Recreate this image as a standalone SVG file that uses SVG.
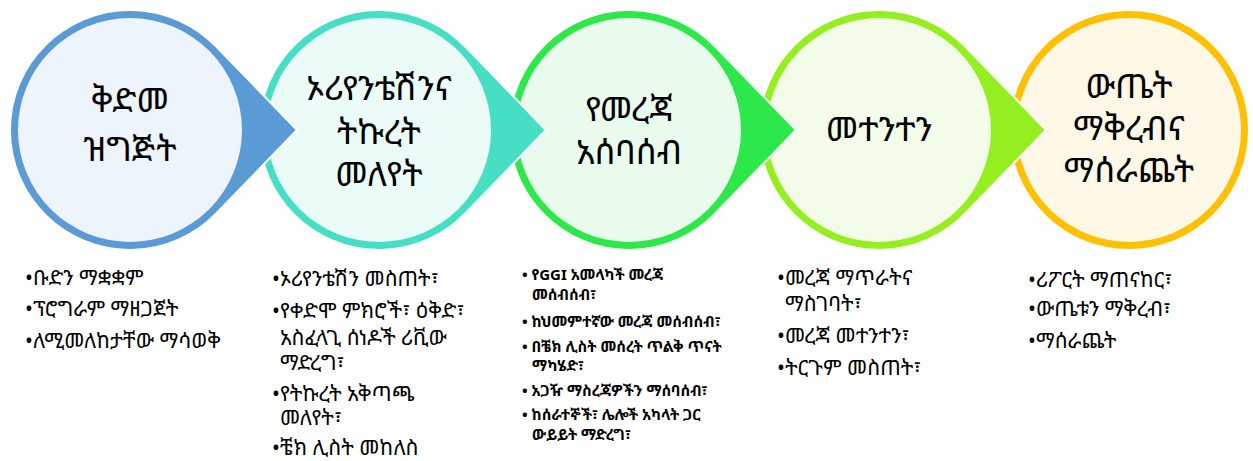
<svg xmlns="http://www.w3.org/2000/svg" width="1253" height="461" viewBox="0 0 1253 461">
<style>
.tear{stroke:#ffffff;stroke-width:2}
.title{font-family:"Noto Sans Ethiopic","Abyssinica SIL","Noto Sans","DejaVu Sans",sans-serif;font-size:34px;fill:#000;text-anchor:middle}
.b{font-family:"Noto Sans Ethiopic","Abyssinica SIL","Noto Sans","DejaVu Sans",sans-serif;font-size:21px;fill:#000}
.bs{font-family:"Noto Sans Ethiopic","Abyssinica SIL","Noto Sans","DejaVu Sans",sans-serif;font-size:15px;font-weight:bold;fill:#000}
</style>
<rect width="1253" height="461" fill="#ffffff"/>
<g id="step5">
<circle cx="1129" cy="130" r="120" fill="#FFC000" class="tear"/>
<circle cx="1129" cy="130" r="112" fill="#FFF8E6"/>
<text class="title" x="1129" y="98">ውጤት</text>
<text class="title" x="1129" y="140">ማቅረብና</text>
<text class="title" x="1129" y="182">ማሰራጨት</text>
</g>
<g id="step4">
<path class="tear" fill="#95EE1F" d="M1046,130 L965.2,46.6 A120 120 0 1 0 965.2,213.4 Z"/>
<circle cx="879" cy="130" r="112" fill="#F3FCE9"/>
<text class="title" x="879" y="141">መተንተን</text>
</g>
<g id="step3">
<path class="tear" fill="#2DE84B" d="M796,130 L715.2,46.6 A120 120 0 1 0 715.2,213.4 Z"/>
<circle cx="629" cy="130" r="112" fill="#E9FBEC"/>
<text class="title" x="629" y="121">የመረጃ</text>
<text class="title" x="629" y="164">አሰባሰብ</text>
</g>
<g id="step2">
<path class="tear" fill="#47DFC3" d="M546,130 L465.2,46.6 A120 120 0 1 0 465.2,213.4 Z"/>
<circle cx="379" cy="130" r="112" fill="#EBFBF8"/>
<text class="title" x="379" y="100">ኦሪየንቴሽንና</text>
<text class="title" x="379" y="144">ትኩረት</text>
<text class="title" x="379" y="186">መለየት</text>
</g>
<g id="step1">
<path class="tear" fill="#5B9BD5" d="M297,130 L216.2,46.6 A120 120 0 1 0 216.2,213.4 Z"/>
<circle cx="130" cy="130" r="112" fill="#EEF4FB"/>
<text class="title" x="130" y="112">ቅድመ</text>
<text class="title" x="130" y="161">ዝግጅት</text>
</g>
<g id="list1">
<text class="b" x="25" y="285">•ቡድን ማቋቋም</text>
<text class="b" x="25" y="316">•ፕሮግራም ማዘጋጀት</text>
<text class="b" x="25" y="348">•ለሚመለከታቸው ማሳወቅ</text>
</g>
<g id="list2">
<text class="b" x="272" y="286">•ኦሪየንቴሽን መስጠት፣</text>
<text class="b" x="272" y="318">•የቀድሞ ምክሮች፣ ዕቅድ፣</text>
<text class="b" x="280" y="345">አስፈላጊ ሰነዶች ሪቪው</text>
<text class="b" x="280" y="370">ማድረግ፣</text>
<text class="b" x="272" y="401">•የትኩረት አቅጣጫ</text>
<text class="b" x="280" y="425">መለየት፣</text>
<text class="b" x="272" y="455">•ቼክ ሊስት መከለስ</text>
</g>
<g id="list3">
<text class="bs" x="522" y="280">• የGGI አመላካች መረጃ</text>
<text class="bs" x="532" y="300">መሰብሰብ፣</text>
<text class="bs" x="522" y="327">• ከህመምተኛው መረጃ መሰብሰብ፣</text>
<text class="bs" x="522" y="352">• በቼክ ሊስት መሰረት ጥልቅ ጥናት</text>
<text class="bs" x="532" y="371">ማካሄድ፣</text>
<text class="bs" x="522" y="396">• አጋዥ ማስረጃዎችን ማሰባሰብ፣</text>
<text class="bs" x="522" y="420">• ከሰራተኞች፣ ሌሎች አካላት ጋር</text>
<text class="bs" x="532" y="440">ውይይት ማድረግ፣</text>
</g>
<g id="list4">
<text class="b" x="777" y="285">•መረጃ ማጥራትና</text>
<text class="b" x="785" y="311">ማስገባት፣</text>
<text class="b" x="777" y="343">•መረጃ መተንተን፣</text>
<text class="b" x="777" y="375">•ትርጉም መስጠት፣</text>
</g>
<g id="list5">
<text class="b" x="1028" y="287">•ሪፖርት ማጠናከር፣</text>
<text class="b" x="1028" y="316">•ውጤቱን ማቅረብ፣</text>
<text class="b" x="1028" y="348">•ማሰራጨት</text>
</g>
</svg>
